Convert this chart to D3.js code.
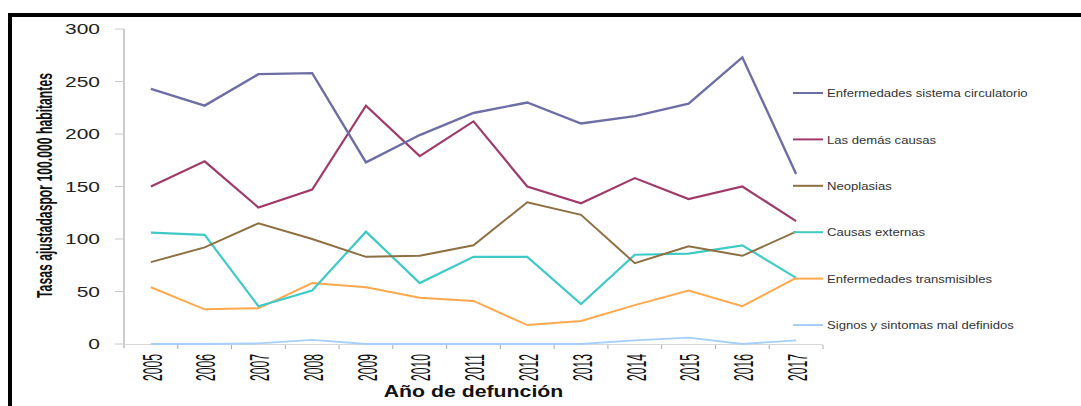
<!DOCTYPE html>
<html>
<head>
<meta charset="utf-8">
<script src="https://cdn.jsdelivr.net/npm/d3@7"></script>
<style>
  body { margin: 0; background: #fff; }
  svg { display: block; }
</style>
</head>
<body>
<svg id="chart" width="1081" height="406"></svg>
<script>
// data
const years = ["2005","2006","2007","2008","2009","2010","2011","2012","2013","2014","2015","2016","2017"];
const yTicks = [0, 50, 100, 150, 200, 250, 300];

const circulatorio  = [243, 227, 257, 258, 173, 199, 220, 230, 210, 217, 229, 273, 162];
const demasCausas   = [150, 174, 130, 147, 227, 179, 212, 150, 134, 158, 138, 150, 117];
const neoplasias    = [78, 92, 115, 100, 83, 84, 94, 135, 123, 77, 93, 84, 107];
const externas      = [106, 104, 36, 51, 107, 58, 83, 83, 38, 85, 86, 94, 63];
const transmisibles = [54, 33, 34, 58, 54, 44, 41, 18, 22, 37, 51, 36, 63];
const signos        = [0, 0, 0.5, 4, 0, 0, 0, 0, 0, 3.5, 6, 0, 3.5];

const seriesNames = ["Enfermedades sistema circulatorio", "Las demás causas", "Neoplasias",
                     "Causas externas", "Enfermedades transmisibles", "Signos y sintomas mal definidos"];
const seriesValues = [circulatorio, demasCausas, neoplasias, externas, transmisibles, signos];
const seriesColors = ["#6e6ea6", "#a03a6a", "#8e7042", "#3ecac6", "#ffa84e", "#a6d0fb"];
const seriesWidths = [2.4, 2.2, 2, 2.2, 2, 1.8];

const svg = d3.select("#chart");

// frame
svg.append("rect")
    .attr("x", 10).attr("y", 15)
    .attr("width", 1200).attr("height", 600)
    .attr("fill", "none")
    .attr("stroke", "#000")
    .attr("stroke-width", 4);

const x = d3.scaleBand().domain(years).range([124, 823]).paddingInner(0).paddingOuter(0);
const y = d3.scaleLinear().domain([0, 300]).range([344, 29]);
const cx = d => x(d) + x.bandwidth() / 2;

// squeeze a rotated text so it runs over a given length
const fitAlong = (sel, px, py, len) => {
    sel.each(function() {
        let w = this.getComputedTextLength();
        d3.select(this).attr("transform",
            "translate(" + px(this) + "," + py + ") rotate(-90) scale(" + (len / w) + ",1)");
    });
};

// y axis
const yAxis = svg.append("g").attr("class", "axis axis--y");
yAxis.append("line")
    .attr("x1", 124).attr("x2", 124)
    .attr("y1", y(300)).attr("y2", y(0) + 4)
    .attr("stroke", "#999").attr("stroke-width", 1);
yAxis.selectAll(".tick")
    .data(yTicks)
    .enter().append("line")
    .attr("x1", 115).attr("x2", 124)
    .attr("y1", d => y(d)).attr("y2", d => y(d))
    .attr("stroke", "#c8c8c8").attr("stroke-width", 1);
yAxis.selectAll(".lbl")
    .data(yTicks)
    .enter().append("text")
    .attr("transform", d => "translate(100," + y(d) + ") scale(1.4,1)")
    .attr("text-anchor", "end")
    .attr("dominant-baseline", "central")
    .attr("fill", "#222")
    .style("font", "15px 'Liberation Sans', Arial, sans-serif")
    .text(d => d);

// x axis
const xAxis = svg.append("g").attr("class", "axis axis--x");
xAxis.append("line")
    .attr("x1", 124).attr("x2", 823)
    .attr("y1", y(0) + 0.5).attr("y2", y(0) + 0.5)
    .attr("stroke", "#d8d8d8").attr("stroke-width", 1);
xAxis.selectAll(".tick")
    .data(years.slice(1).concat(["end"]))
    .enter().append("line")
    .attr("x1", (d, i) => x(years[0]) + (i + 1) * x.bandwidth())
    .attr("x2", (d, i) => x(years[0]) + (i + 1) * x.bandwidth())
    .attr("y1", y(0) + 1).attr("y2", y(0) + 5)
    .attr("stroke", "#aaa").attr("stroke-width", 1);
let yearLabels = xAxis.selectAll(".lbl")
    .data(years)
    .enter().append("text")
    .attr("class", "lbl")
    .attr("text-anchor", "end")
    .attr("dominant-baseline", "central")
    .attr("fill", "#111")
    .style("font", "28px 'Liberation Sans Narrow', 'Liberation Sans', Arial, sans-serif")
    .text(d => d);
fitAlong(yearLabels, el => cx(d3.select(el).datum()) + 1, 354, 27);

// axis titles
let yTitle = svg.append("text")
    .attr("text-anchor", "middle")
    .attr("fill", "#111")
    .style("font", "bold 22px 'Liberation Sans Narrow', 'Liberation Sans', Arial, sans-serif")
    .text("Tasas ajustadaspor 100.000 habitantes");
fitAlong(yTitle, () => 52, 185.5, 225);

svg.append("text")
    .attr("transform", "translate(473.5,397) scale(1.33,1)")
    .attr("text-anchor", "middle")
    .attr("fill", "#111")
    .style("font", "bold 16px 'Liberation Sans', Arial, sans-serif")
    .text("Año de defunción");

// lines
const line = d3.line()
    .x(d => cx(d.year))
    .y(d => y(d.value));

const series = seriesNames.map((name, i) => ({
    id: name,
    color: seriesColors[i],
    width: seriesWidths[i],
    values: years.map((yr, j) => ({ year: yr, value: seriesValues[i][j] }))
}));

svg.selectAll(".serie")
    .data(series.slice().reverse())
    .enter().append("path")
    .attr("class", "serie")
    .attr("d", d => line(d.values))
    .attr("fill", "none")
    .attr("stroke", d => d.color)
    .attr("stroke-width", d => d.width)
    .attr("stroke-linejoin", "miter");

// legend
const legend = svg.selectAll(".legend")
    .data(series)
    .enter().append("g")
    .attr("class", "legend")
    .attr("transform", (d, i) => "translate(793," + (93 + i * 46.4) + ")");

legend.append("line")
    .attr("x1", 0).attr("x2", 30)
    .attr("y1", 0).attr("y2", 0)
    .attr("stroke", d => d.color)
    .attr("stroke-width", 2);

legend.append("text")
    .attr("transform", "translate(34,0.5) scale(1.19,1)")
    .attr("dominant-baseline", "central")
    .attr("fill", "#333")
    .style("font", "11px 'Liberation Sans', Arial, sans-serif")
    .text(d => d.id);
</script>
</body>
</html>
